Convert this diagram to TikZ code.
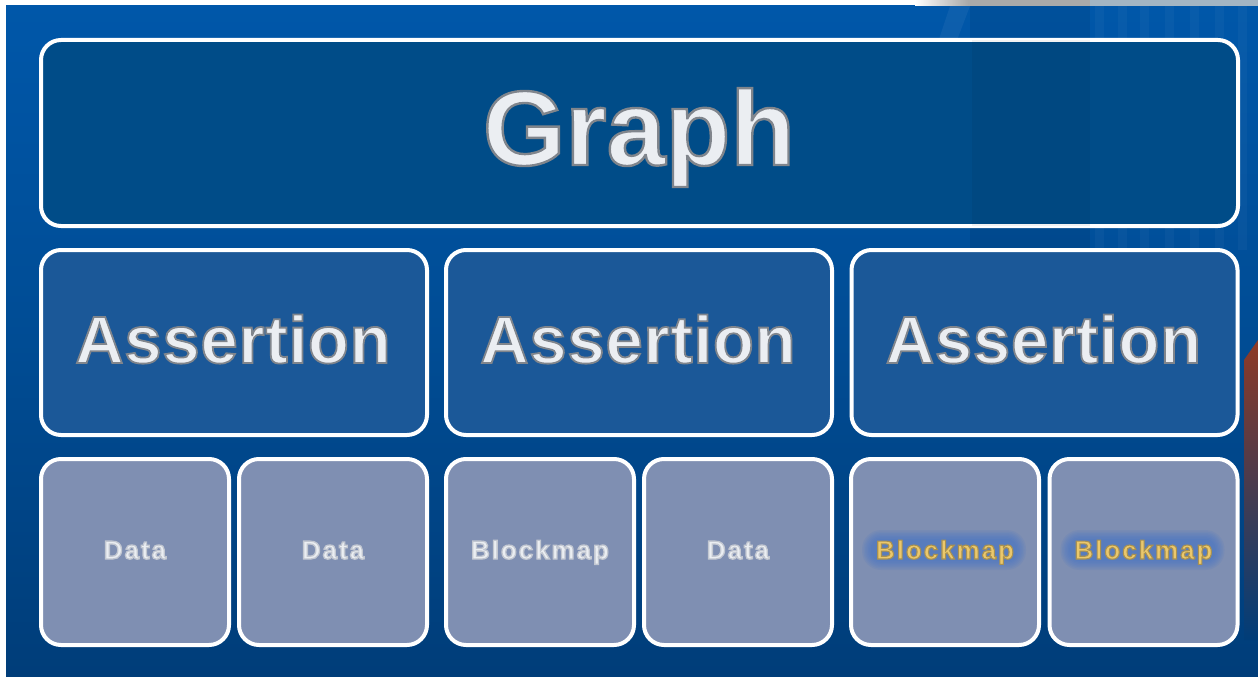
\documentclass[tikz,border=0pt]{standalone}
\usepackage{fontspec}
\setmainfont{Liberation Sans}
\newfontface\smallbold[LetterSpace=7.5]{Liberation Sans Bold}
\newfontface\midbold[LetterSpace=1.2]{Liberation Sans Bold}
\newfontface\bigbold{Liberation Sans Bold}
\usetikzlibrary{calc}

\definecolor{bgtop}{HTML}{0057A9}
\definecolor{bgmid}{HTML}{004C94}
\definecolor{bgbot}{HTML}{003D79}
\definecolor{graphfill}{HTML}{004C88}
\definecolor{assertfill}{HTML}{1B5898}
\definecolor{leaffill}{HTML}{7F8FB2}
\definecolor{labelwhite}{HTML}{EBEEF2}
\definecolor{gold}{HTML}{EBC86C}
\definecolor{glowblue}{HTML}{3A6FCC}
\definecolor{rust}{HTML}{8E3A26}
\definecolor{stripgrey}{HTML}{A9A9A9}
\definecolor{stripblue}{HTML}{A3B5C3}

% outlined glyphs: fill with the current colour, stroke with the given rgb
\newcommand{\rimmed}[3]{% stroke width, stroke rgb, text
  \special{pdf:bcontent}\special{pdf:code 2 Tr #1 w #2 RG}#3\special{pdf:econtent}}

\tikzset{
  panel/.style={draw=white, line width=4pt, rounded corners=20pt, inner sep=0pt},
  graphbox/.style={panel, fill=graphfill, minimum width=1197pt, minimum height=186pt},
  assertbox/.style={panel, fill=assertfill, minimum width=386pt, minimum height=185pt},
  leafbox/.style={panel, fill=leaffill, minimum width=188pt, minimum height=186pt},
  bigtext/.style={font=\bigbold\fontsize{106}{110}\selectfont, anchor=base, inner sep=0pt, text=labelwhite},
  midtext/.style={font=\midbold\fontsize{67}{70}\selectfont, anchor=base, inner sep=0pt, text=labelwhite},
  smalltext/.style={font=\smallbold\fontsize{26}{28}\selectfont, anchor=base, inner sep=0pt, text=labelwhite},
  goldtext/.style={smalltext, text=gold},
}

% soft blue halo behind a label
\newcommand{\halo}[1]{% centre
  \foreach \g in {0,1.5,...,9} {
    \fill[glowblue, opacity=0.1, rounded corners=10pt+\g]
      ($#1+(-73-\g,-20-\g)$) rectangle ($#1+(73+\g,2+\g)$);
  }
}

\begin{document}
\begin{tikzpicture}[x=1pt, y=-1pt]
\useasboundingbox (0,0) rectangle (1258,677);

% page and blue backdrop
\fill[white] (0,0) rectangle (1258,677);
\shade[top color=bgtop, bottom color=bgbot, middle color=bgmid] (6,6) rectangle (1258,677);

% photographic strip at the upper right
\shade[left color=white, right color=stripgrey] (915,0) rectangle (968,6);
\fill[stripgrey] (968,0) rectangle (1090,6);
\fill[stripblue] (1090,0) rectangle (1258,6);
\fill[white, opacity=0.05] (950,6) -- (970,6) -- (915,150) -- (902,150) -- cycle;
\fill[black, opacity=0.08] (970,6) rectangle (1090,250);
\foreach \x in {1095,1118,1140,1165,1190,1215,1238} {
  \fill[white, opacity=0.03] (\x,6) rectangle ++(9,244);
}

% rusty band on the right edge
\shade[top color=rust, bottom color=bgbot] (1244,360) -- (1258,340) -- (1258,640) -- (1244,640) -- cycle;

% top level
\node[graphbox] (graph) at (639.5,133) {};
\fill[black, opacity=0.05] (972,40) rectangle (1090,226);
\node[bigtext] (graphlabel) at (639,165) {\rimmed{2.4}{0.50 0.52 0.55}{Graph}};

% assertions
\node[assertbox] (a1) at (234,342.5) {};
\node[assertbox] (a2) at (639,342.5) {};
\node[assertbox] (a3) at (1044.5,342.5) {};
\node[midtext] (a1label) at (233,363) {\rimmed{1.8}{0.50 0.52 0.55}{Assertion}};
\node[midtext] (a2label) at (638,363) {\rimmed{1.8}{0.50 0.52 0.55}{Assertion}};
\node[midtext] (a3label) at (1043.5,363) {\rimmed{1.8}{0.50 0.52 0.55}{Assertion}};

% leaves
\node[leafbox] (d1) at (135,552) {};
\node[leafbox] (d2) at (333,552) {};
\node[leafbox] (b1) at (540,552) {};
\node[leafbox] (d3) at (738,552) {};
\node[leafbox] (b2) at (945,552) {};
\node[leafbox] (b3) at (1143.5,552) {};
\halo{(944,559)}
\halo{(1142.5,559)}
\node[smalltext] (d1label) at (135,559) {\rimmed{1.3}{0.76 0.78 0.82}{Data}};
\node[smalltext] (d2label) at (333,559) {\rimmed{1.3}{0.76 0.78 0.82}{Data}};
\node[smalltext] (b1label) at (540,559) {\rimmed{1.3}{0.76 0.78 0.82}{Blockmap}};
\node[smalltext] (d3label) at (738,559) {\rimmed{1.3}{0.76 0.78 0.82}{Data}};
\node[goldtext] (b2label) at (945,559) {\rimmed{1.1}{0.66 0.57 0.32}{Blockmap}};
\node[goldtext] (b3label) at (1143.5,559) {\rimmed{1.1}{0.66 0.57 0.32}{Blockmap}};
\end{tikzpicture}
\end{document}
